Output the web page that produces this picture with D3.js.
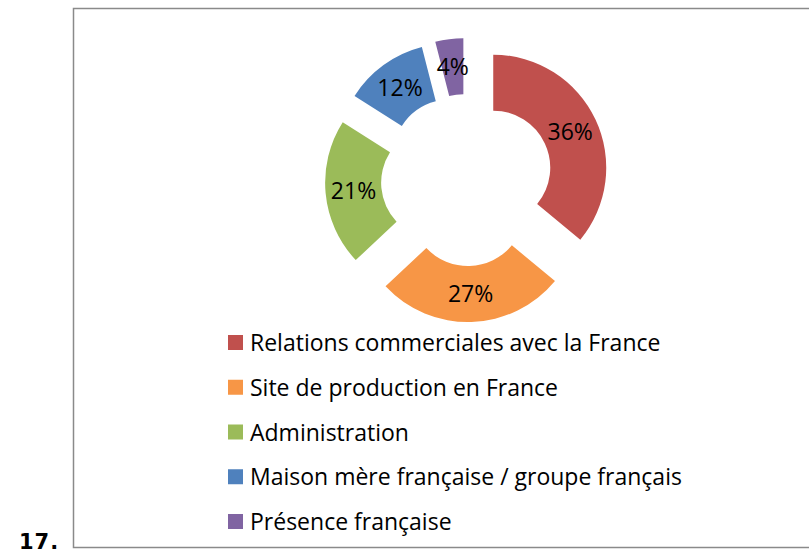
<!DOCTYPE html>
<html>
<head>
<meta charset="utf-8">
<script src="https://cdn.jsdelivr.net/npm/d3@7"></script>
<style>
  body { margin: 0; background: #fff; }
  svg { display: block; }
  text { font-family: "Open Sans", Lato, sans-serif; }
</style>
</head>
<body>
<div id="chart"></div>
<script>
const categories = [
  "Relations commerciales avec la France",
  "Site de production en France",
  "Administration",
  "Maison mère française / groupe français",
  "Présence française"
];
const values = [36, 27, 21, 12, 4];
const colors = ["#C0504D", "#F79646", "#9BBB59", "#4F81BD", "#8064A2"];

const width = 809;
const height = 553;

const svg = d3.select("#chart").append("svg")
  .attr("width", width)
  .attr("height", height);

// chart frame (runs off the right side like the source)
svg.append("rect")
  .attr("x", 73.5)
  .attr("y", 8.5)
  .attr("width", 760)
  .attr("height", 539)
  .attr("fill", "none")
  .attr("stroke", "#8a8a8a")
  .attr("stroke-width", 1.5);

svg.append("text")
  .attr("x", 19)
  .attr("y", 549)
  .style("font-family", "Verdana, 'DejaVu Sans', sans-serif")
  .attr("font-weight", "bold")
  .attr("font-size", 21)
  .attr("letter-spacing", 1)
  .text("17.");

const cx = 467, cy = 180;
const outerR = 113, innerR = 57, explode = 29;

const pie = d3.pie().sort(null).value(d => d)(values);
const arc = d3.arc().innerRadius(innerR).outerRadius(outerR);
const labelArc = d3.arc().innerRadius((innerR + outerR) / 2).outerRadius((innerR + outerR) / 2);

const donut = svg.append("g").attr("transform", `translate(${cx},${cy})`);

const slices = donut.selectAll(".slice")
  .data(pie)
  .enter().append("g")
  .attr("class", "slice")
  .attr("transform", d => {
    const a = (d.startAngle + d.endAngle) / 2;
    return `translate(${explode * Math.sin(a)},${-explode * Math.cos(a)})`;
  });

slices.append("path")
  .attr("d", arc)
  .attr("fill", (d, i) => colors[i]);

slices.append("text")
  .attr("transform", d => `translate(${labelArc.centroid(d)})`)
  .attr("text-anchor", "middle")
  .attr("dy", "0.35em")
  .attr("font-size", 23)
  .attr("fill", "#000")
  .text(d => d.value + "%");

// legend
const legend = svg.append("g").attr("transform", "translate(228,0)");
const rowY = d3.scalePoint().domain(categories).range([343, 522]);

const items = legend.selectAll(".item")
  .data(categories)
  .enter().append("g")
  .attr("class", "item")
  .attr("transform", d => `translate(0,${rowY(d)})`);

items.append("rect")
  .attr("x", 0)
  .attr("y", -8)
  .attr("width", 15)
  .attr("height", 15)
  .attr("fill", (d, i) => colors[i]);

items.append("text")
  .attr("x", 22)
  .attr("dy", "0.35em")
  .attr("font-size", 23)
  .attr("fill", "#000")
  .text(d => d);
</script>
</body>
</html>
